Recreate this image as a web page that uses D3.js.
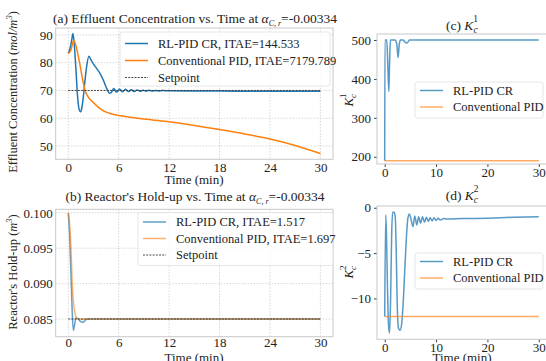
<!DOCTYPE html>
<html>
<head>
<meta charset="utf-8">
<script src="https://cdn.jsdelivr.net/npm/d3@7"></script>
<style>
  body { margin: 0; background: #fff; }
  svg { display: block; font-family: "Liberation Serif", "DejaVu Serif", serif; }
</style>
</head>
<body>
<svg width="546" height="361"></svg>
<script>
// (a) effluent concentration
const tConcRL = [0, 0.2, 0.4, 0.55, 0.7, 0.9, 1.1, 1.3, 1.45, 1.6, 1.8, 2.0, 2.2, 2.45, 2.7, 3.0, 3.4, 3.8, 4.2, 4.6, 4.9, 5.1, 5.4, 5.75, 6.1, 6.45, 6.8, 7.15, 7.5, 7.85, 8.2, 8.55, 8.9, 9.25, 9.6, 10, 10.4, 10.8, 11.2, 12, 15, 20, 25, 30];
const concRL = [83.5, 85, 88, 90.5, 87, 78, 68, 63, 62.3, 63.5, 68, 74, 79, 82.3, 81, 79.5, 77.8, 76, 73.5, 70.5, 69, 69.2, 70.7, 69.4, 70.5, 69.5, 70.4, 69.6, 70.3, 69.6, 70.2, 69.7, 70.1, 69.75, 70.05, 69.8, 70, 69.8, 69.95, 69.85, 69.8, 69.75, 69.7, 69.7];
const tConcPID = [0, 0.3, 0.65, 1.0, 1.4, 1.8, 2.0, 2.4, 3.0, 3.5, 4.0, 4.5, 5, 6, 7, 8, 10, 12, 15, 18, 21, 24, 27, 30];
const concPID = [83.2, 84.5, 88, 85, 79, 72.5, 70, 67.5, 65.6, 64.2, 63, 62.2, 61.7, 61.0, 60.5, 60.1, 59.4, 58.7, 57.4, 55.9, 54.3, 52.5, 50.2, 47.3];
const concSetpoint = 70;

// (b) reactor hold-up
const tHoldRL = [0, 0.15, 0.3, 0.45, 0.6, 0.75, 0.9, 1.1, 1.4, 1.75, 2.1, 2.4, 30];
const holdRL = [0.1, 0.097, 0.092, 0.0865, 0.0834, 0.0842, 0.0851, 0.0851, 0.0847, 0.08455, 0.0849, 0.085, 0.085];
const tHoldPID = [0, 0.15, 0.3, 0.45, 0.6, 0.8, 1.0, 1.3, 1.8, 30];
const holdPID = [0.1, 0.0985, 0.0955, 0.0905, 0.0875, 0.0858, 0.0851, 0.08495, 0.085, 0.085];
const holdSetpoint = 0.085;

// (c) Kc1
const tK1RL = [0, 0.05, 0.4, 0.6, 0.8, 0.95, 1.1, 2.0, 2.35, 2.6, 2.85, 3.05, 3.6, 4.0, 4.25, 4.5, 4.8, 30];
const k1RL = [190, 500, 500, 440, 368, 440, 500, 500, 490, 455, 490, 500, 500, 494, 492, 494, 500, 500];
const tK1PID = [0, 30];
const k1PID = [190, 190];

// (d) Kc2
const tK2RL = [0, 0.2, 0.35, 0.55, 0.75, 0.95, 1.15, 1.35, 1.55, 1.85, 2.05, 2.25, 2.45, 2.7, 3.0, 3.3, 3.6, 3.9, 4.2, 4.5, 4.8, 5.1, 5.5, 5.85, 6.25, 6.6, 7.0, 7.35, 7.75, 8.1, 8.5, 8.85, 9.25, 9.6, 10, 10.4, 10.8, 11.5, 12, 15, 20, 25, 30];
const k2RL = [-12, -0.8, -3, -9, -13, -13.8, -10, -3, -0.5, -0.5, -1, -5, -11, -13.3, -13.5, -12.8, -10.5, -7, -3.5, -1.2, -0.7, -1.2, -2.1, -0.9, -1.9, -1.0, -1.7, -1.0, -1.6, -1.05, -1.5, -1.1, -1.45, -1.1, -1.4, -1.15, -1.35, -1.2, -1.25, -1.2, -1.15, -1.05, -1.0];
const tK2PID = [0, 30];
const k2PID = [-12, -12];

const blue = "#1f77b4", orange = "#ff7f0e";
const svg = d3.select("svg");

function zip(t, v) { return t.map((d, i) => [d, v[i]]); }

function panel(cfg) {
  const g = svg.append("g");
  const x = d3.scaleLinear().domain(cfg.xDomain).range(cfg.xRange);
  const y = d3.scaleLinear().domain(cfg.yDomain).range(cfg.yRange);
  const [x0, x1] = cfg.xRange, [y1, y0] = cfg.yRange;

  if (cfg.grid) {
    g.selectAll(".gx").data(cfg.xTicks).enter().append("line")
      .attr("x1", d => x(d)).attr("x2", d => x(d)).attr("y1", y0).attr("y2", y1)
      .attr("stroke", "#ccc").attr("stroke-width", 0.8).attr("stroke-dasharray", "1.5,1.5");
    g.selectAll(".gy").data(cfg.yTicks).enter().append("line")
      .attr("x1", x0).attr("x2", x1).attr("y1", d => y(d)).attr("y2", d => y(d))
      .attr("stroke", "#ccc").attr("stroke-width", 0.8).attr("stroke-dasharray", "1.5,1.5");
  }

  const xAxis = g.append("g").attr("transform", `translate(0,${y1})`)
    .call(d3.axisBottom(x).tickValues(cfg.xTicks).tickSize(cfg.tick).tickPadding(cfg.xPad).tickFormat(d3.format("d")));
  const yAxis = g.append("g").attr("transform", `translate(${x0},0)`)
    .call(d3.axisLeft(y).tickValues(cfg.yTicks).tickSize(cfg.tick).tickPadding(3).tickFormat(cfg.yFormat));
  [xAxis, yAxis].forEach(a => {
    a.select(".domain").remove();
    a.selectAll("line").attr("stroke", "#444");
    a.selectAll("text").attr("fill", "#222").style("font-size", "13px")
      .style("font-family", "'Liberation Serif', serif");
  });

  const line = d3.line().x(d => x(d[0])).y(d => y(d[1])).curve(d3.curveMonotoneX);
  cfg.series.forEach(s => {
    g.append("path").datum(s.data).attr("d", line)
      .attr("fill", "none").attr("stroke", s.color).attr("stroke-width", s.width || 1.5)
      .attr("stroke-opacity", s.opacity || 1)
      .attr("stroke-dasharray", s.dash || null);
  });

  g.append("rect").attr("x", x0).attr("y", y0).attr("width", x1 - x0).attr("height", y1 - y0)
    .attr("fill", "none").attr("stroke", "#c8c8c8").attr("stroke-width", 1);

  // legend
  const L = cfg.legend;
  g.append("rect").attr("x", L.x).attr("y", L.y).attr("width", L.w).attr("height", L.h)
    .attr("rx", 2).attr("fill", "#fff").attr("fill-opacity", 0.8)
    .attr("stroke", "#e0e0e0").attr("stroke-width", 0.8);
  cfg.series.forEach((s, i) => {
    const yy = L.y + L.first + i * L.step;
    g.append("line").attr("x1", L.x + 5).attr("x2", L.x + 28).attr("y1", yy).attr("y2", yy)
      .attr("stroke", s.color).attr("stroke-width", s.width || 1.5)
      .attr("stroke-opacity", s.opacity || 1).attr("stroke-dasharray", s.dash || null);
    g.append("text").attr("x", L.x + 38).attr("y", yy + 4).style("font-size", "12.5px")
      .attr("fill", "#222").text(s.label);
  });
  return g;
}

function kLabel(x, y, n, rotate, size, prefix) {
  const t = svg.append("text")
    .attr("transform", `translate(${x},${y})` + (rotate ? " rotate(-90)" : ""))
    .attr("text-anchor", "middle").style("font-size", size + "px").attr("fill", "#222");
  if (prefix) t.append("tspan").text(prefix);
  t.append("tspan").style("font-style", "italic").text("K");
  t.append("tspan").attr("dy", 3).style("font-size", (size * 0.7) + "px").style("font-style", "italic").text("c");
  t.append("tspan").attr("dx", -size * 0.32).attr("dy", -size * 0.78).style("font-size", (size * 0.7) + "px").text(n);
}

function alphaTitle(x, y, prefix) {
  const t = svg.append("text").attr("x", x).attr("y", y).attr("text-anchor", "middle")
    .style("font-size", "13.5px").attr("fill", "#222");
  t.append("tspan").text(prefix);
  t.append("tspan").style("font-style", "italic").text("α");
  t.append("tspan").attr("dy", 3).style("font-size", "8px").style("font-style", "italic").text("C, r");
  t.append("tspan").attr("dy", -3).text("=-0.00334");
}

// (a)
panel({
  xDomain: [-1.5, 31.5], xRange: [55.7, 333], yDomain: [45.2, 92.5], yRange: [159.3, 28],
  xTicks: [0, 6, 12, 18, 24, 30], yTicks: [50, 60, 70, 80, 90], yFormat: d3.format("d"),
  grid: true, tick: 0, xPad: 3,
  series: [
    { data: zip(tConcRL, concRL), color: blue, label: "RL-PID CR, ITAE=144.533" },
    { data: zip(tConcPID, concPID), color: orange, label: "Conventional PID, ITAE=7179.789" },
    { data: [[0, concSetpoint], [30, concSetpoint]], color: "#333", width: 0.9, dash: "2,1.2", label: "Setpoint" }
  ],
  legend: { x: 120, y: 32, w: 210, h: 54, first: 11.5, step: 17 }
});
alphaTitle(195, 23, "(a) Effluent Concentration vs. Time at ");
svg.append("text").attr("x", 194).attr("y", 184).attr("text-anchor", "middle")
  .style("font-size", "13px").attr("fill", "#222").text("Time (min)");
{
  const t = svg.append("text").attr("transform", "translate(17,92) rotate(-90)")
    .attr("text-anchor", "middle").style("font-size", "12.5px").attr("fill", "#222");
  t.append("tspan").text("Effluent Concentration (");
  t.append("tspan").style("font-style", "italic").text("mol/m");
  t.append("tspan").attr("dy", -5).style("font-size", "8.5px").style("font-style", "italic").text("3");
  t.append("tspan").attr("dy", 5).text(")");
}

// (b)
panel({
  xDomain: [-1.5, 31.5], xRange: [55.7, 333], yDomain: [0.0825, 0.1005], yRange: [336.7, 209.3],
  xTicks: [0, 6, 12, 18, 24, 30], yTicks: [0.085, 0.09, 0.095, 0.1], yFormat: d3.format(".3f"),
  grid: true, tick: 0, xPad: 1.5,
  series: [
    { data: zip(tHoldRL, holdRL), color: blue, opacity: 0.7, label: "RL-PID CR, ITAE=1.517" },
    { data: zip(tHoldPID, holdPID), color: orange, opacity: 0.6, label: "Conventional PID, ITAE=1.697" },
    { data: [[0, holdSetpoint], [30, holdSetpoint]], color: "#333", width: 0.9, dash: "2,1.2", label: "Setpoint" }
  ],
  legend: { x: 138, y: 212.5, w: 195, h: 53, first: 9.5, step: 16.5 }
});
alphaTitle(195, 201, "(b) Reactor's Hold-up vs. Time at ");
svg.append("text").attr("x", 194).attr("y", 362).attr("text-anchor", "middle")
  .style("font-size", "13px").attr("fill", "#222").text("Time (min)");
{
  const t = svg.append("text").attr("transform", "translate(17,272) rotate(-90)")
    .attr("text-anchor", "middle").style("font-size", "12.5px").attr("fill", "#222");
  t.append("tspan").text("Reactor's Hold-up (");
  t.append("tspan").style("font-style", "italic").text("m");
  t.append("tspan").attr("dy", -5).style("font-size", "8.5px").style("font-style", "italic").text("3");
  t.append("tspan").attr("dy", 5).text(")");
}

// (c)
panel({
  xDomain: [-1.5, 31.5], xRange: [377, 546.5], yDomain: [181.4, 515.4], yRange: [164, 34],
  xTicks: [0, 10, 20, 30], yTicks: [200, 300, 400, 500], yFormat: d3.format("d"),
  grid: false, tick: 3, xPad: 1,
  series: [
    { data: zip(tK1RL, k1RL), color: blue, opacity: 0.75, label: "RL-PID CR" },
    { data: zip(tK1PID, k1PID), color: orange, opacity: 0.65, label: "Conventional PID" }
  ],
  legend: { x: 415, y: 82, w: 128, h: 36, first: 8.5, step: 16.5 }
});
kLabel(462, 30, "1", false, 13.5, "(c) ");
kLabel(353, 100, "1", true, 13);

// (d)
panel({
  xDomain: [-1.5, 31.5], xRange: [377, 546.5], yDomain: [-14.5, 0.19], yRange: [339.3, 206],
  xTicks: [0, 10, 20, 30], yTicks: [-10, -5, 0], yFormat: d => d < 0 ? "\u2212" + Math.abs(d) : d,
  grid: false, tick: 3, xPad: 0,
  series: [
    { data: zip(tK2RL, k2RL), color: blue, opacity: 0.75, label: "RL-PID CR" },
    { data: zip(tK2PID, k2PID), color: orange, opacity: 0.65, label: "Conventional PID" }
  ],
  legend: { x: 415, y: 253, w: 128, h: 36, first: 8.5, step: 16.5 }
});
kLabel(462, 200, "2", false, 13.5, "(d) ");
kLabel(353, 272, "2", true, 13);
svg.append("text").attr("x", 462).attr("y", 362).attr("text-anchor", "middle")
  .style("font-size", "13px").attr("fill", "#222").text("Time (min)");
</script>
</body>
</html>
